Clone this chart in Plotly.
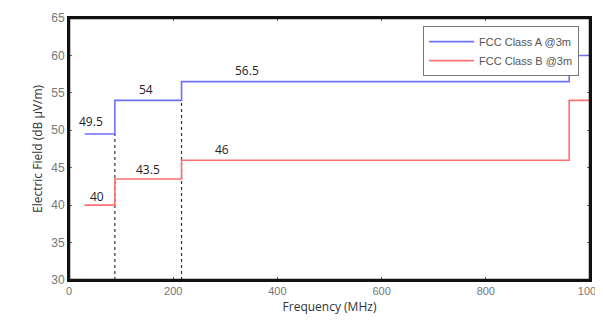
import plotly.graph_objects as go

# Step data (MHz, dB µV/m)
class_a_x = [0, 0, None, 30, 88, 88, 216, 216, 960, 960, 1000]
class_a_y = [30, 49.5, None, 49.5, 49.5, 54, 54, 56.5, 56.5, 60, 60]
class_b_x = [0, 0, None, 30, 88, 88, 216, 216, 960, 960, 1000]
class_b_y = [30, 40, None, 40, 40, 43.5, 43.5, 46, 46, 54, 54]

# Dotted guide lines at band edges
guide_x = [88, 88, None, 216, 216]
guide_y = [30, 49.5, None, 30, 54]

# Limit labels
label_text = ["49.5", "54", "56.5", "40", "43.5", "46"]
label_x = [42, 148, 342, 54, 152, 294]
label_y = [51.2, 55.5, 58.0, 41.2, 44.8, 47.4]

x_ticks = [0, 200, 400, 600, 800, 1000]
y_ticks = [30, 35, 40, 45, 50, 55, 60, 65]

fig = go.Figure()
fig.add_trace(go.Scatter(x=guide_x, y=guide_y, mode="lines",
                         line=dict(color="#333333", width=1.2, dash="dot"),
                         showlegend=False, hoverinfo="skip"))
fig.add_trace(go.Scatter(x=class_a_x, y=class_a_y, mode="lines",
                         name="FCC Class A @3m",
                         line=dict(color="#7070ff", width=1.6)))
fig.add_trace(go.Scatter(x=class_b_x, y=class_b_y, mode="lines",
                         name="FCC Class B @3m",
                         line=dict(color="#ff7070", width=1.6)))

for t, x, y in zip(label_text, label_x, label_y):
    fig.add_annotation(x=x, y=y, text=t, showarrow=False,
                       font=dict(family="Open Sans", size=12, color="#222222"))

# plot frame
fig.add_shape(type="rect", xref="paper", yref="paper", x0=0, x1=1, y0=0, y1=1,
              line=dict(color="#111111", width=2.5), layer="above")

fig.update_layout(
    width=595, height=315,
    margin=dict(l=61, r=13, t=10, b=43, autoexpand=False),
    paper_bgcolor="white", plot_bgcolor="white",
    font=dict(family="Liberation Sans", size=11, color="#666666"),
    legend=dict(x=0.979, y=0.969, xanchor="right", yanchor="top",
                bgcolor="white", bordercolor="#777777", borderwidth=1,
                font=dict(family="Liberation Sans", size=11, color="#555555"),
                tracegroupgap=0, itemwidth=45),
    xaxis=dict(range=[0, 1000], tickvals=x_ticks, showgrid=False, zeroline=False,
               automargin=False,
               showline=True, linecolor="#111111", linewidth=2, mirror="all",
               ticks="inside", ticklen=3, tickcolor="#666666",
               tickfont=dict(color="#777777", size=11),
               title=dict(text="Frequency (MHz)", standoff=6,
                          font=dict(family="Open Sans", size=12, color="#333333"))),
    yaxis=dict(range=[30, 65], tickvals=y_ticks, showgrid=False, zeroline=False,
               automargin=False,
               showline=True, linecolor="#111111", linewidth=2, mirror="all",
               ticks="inside", ticklen=3, tickcolor="#666666",
               tickfont=dict(color="#777777", size=12),
               title=dict(text="Electric Field (dB µV/m)", standoff=6,
                          font=dict(family="Open Sans", size=12, color="#333333"))),
)

fig.write_html("out.html")
